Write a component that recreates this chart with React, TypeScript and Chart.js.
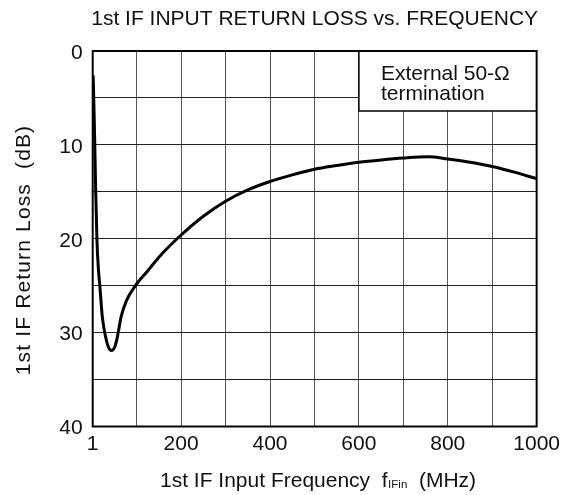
import React, { useEffect, useRef } from 'react';
import { Chart, registerables } from 'chart.js';

Chart.register(...registerables);

// ---- data ----
const frequencyMHz = [2, 4, 5.5, 7.7, 10.6, 13.5, 17, 22.6, 28.5, 36, 43, 50, 55, 58, 65, 77, 97, 125, 157, 200, 250, 300, 350, 400, 450, 500, 550, 600, 650, 700, 756, 800, 850, 900, 950, 1000];
const returnLossDb = [2.6, 6.3, 9.5, 14.8, 20.2, 23.0, 25.0, 28.3, 30.1, 31.5, 31.9, 31.6, 30.8, 30.1, 28.3, 26.6, 25.0, 23.4, 21.6, 19.6, 17.6, 16.0, 14.8, 13.9, 13.2, 12.6, 12.2, 11.85, 11.6, 11.4, 11.27, 11.5, 11.85, 12.3, 12.9, 13.6];

const xTickValues = [1, 100, 200, 300, 400, 500, 600, 700, 800, 900, 1000];
const xTickLabels = ['1', '', '200', '', '400', '', '600', '', '800', '', '1000'];
const yTickLabeled = [0, 10, 20, 30, 40];

const chartTitle = '1st IF INPUT RETURN LOSS vs. FREQUENCY';
const yTitle = '1st IF Return Loss  (dB)';
const xTitleMain = '1st IF Input Frequency  f';
const xTitleSub = 'IFin';
const xTitleTail = '  (MHz)';
const noteLines = ['External 50-\u03A9', 'termination'];
const noteBoxX = [600, 1000];
const noteBoxY = [0, 6.4];

const FONT = '"Liberation Sans", Arial, Helvetica, sans-serif';

const decorPlugin = {
  id: 'decor',
  beforeDatasetsDraw(chart: any) {
    const { ctx, scales } = chart;
    const x = scales.x;
    const y = scales.y;
    const x0 = x.getPixelForValue(noteBoxX[0]);
    const x1 = x.getPixelForValue(noteBoxX[1]);
    const y0 = y.getPixelForValue(noteBoxY[0]);
    const y1 = y.getPixelForValue(noteBoxY[1]);
    ctx.save();
    ctx.fillStyle = '#ffffff';
    ctx.fillRect(x0, y0, x1 - x0, y1 - y0);
    ctx.strokeStyle = '#000000';
    ctx.lineWidth = 1.5;
    ctx.beginPath();
    ctx.moveTo(x0, y0);
    ctx.lineTo(x0, y1);
    ctx.lineTo(x1, y1);
    ctx.stroke();
    ctx.fillStyle = '#111111';
    ctx.font = `21px ${FONT}`;
    ctx.textAlign = 'left';
    ctx.textBaseline = 'alphabetic';
    ctx.fillText(noteLines[0], x0 + 22, y0 + 28.5);
    ctx.fillText(noteLines[1], x0 + 22, y0 + 49);
    ctx.restore();
  },
  afterDraw(chart: any) {
    const { ctx, chartArea } = chart;
    const { left, right, top, bottom } = chartArea;
    ctx.save();
    ctx.strokeStyle = '#000000';
    ctx.lineWidth = 2;
    ctx.strokeRect(left, top, right - left, bottom - top);

    ctx.fillStyle = '#111111';
    // main title
    ctx.font = `21px ${FONT}`;
    ctx.textAlign = 'center';
    ctx.textBaseline = 'alphabetic';
    ctx.fillText(chartTitle, (left + right) / 2, 25);

    // x title with subscript
    ctx.textAlign = 'left';
    let cx = 160;
    const base = 486.7;
    ctx.font = `21px ${FONT}`;
    ctx.fillText(xTitleMain, cx, base);
    cx += ctx.measureText(xTitleMain).width;
    ctx.font = `11.5px ${FONT}`;
    ctx.fillText(xTitleSub, cx + 0.5, base + 1.5);
    cx += ctx.measureText(xTitleSub).width + 0.5;
    ctx.font = `21px ${FONT}`;
    ctx.fillText(xTitleTail, cx, base);

    // y title
    ctx.translate(24.5, 250);
    ctx.rotate(-Math.PI / 2);
    ctx.textAlign = 'center';
    ctx.textBaseline = 'middle';
    try {
      (ctx as any).letterSpacing = '1.15px';
    } catch (e) {
      /* ignore */
    }
    ctx.fillText(yTitle, 0, 0);
    ctx.restore();
  },
};

export default function App() {
  const canvasRef = useRef<HTMLCanvasElement | null>(null);

  useEffect(() => {
    if (!canvasRef.current) return;
    const chart = new Chart(canvasRef.current, {
      type: 'line',
      data: {
        datasets: [
          {
            data: frequencyMHz.map((f, i) => ({ x: f, y: returnLossDb[i] })),
            borderColor: '#000000',
            borderWidth: 3,
            pointRadius: 0,
            fill: false,
            cubicInterpolationMode: 'monotone',
          },
        ],
      },
      options: {
        responsive: false,
        animation: false,
        layout: { padding: { top: 51, right: 26, bottom: 0, left: 0 } },
        plugins: {
          legend: { display: false },
          tooltip: { enabled: false },
          title: { display: false },
        },
        scales: {
          x: {
            type: 'linear',
            min: 1,
            max: 1000,
            afterBuildTicks: (scale: any) => {
              scale.ticks = xTickValues.map((v) => ({ value: v }));
            },
            afterFit: (scale: any) => {
              scale.height = 68.5;
            },
            grid: { color: '#555555', lineWidth: 1, drawTicks: false },
            border: { display: false },
            ticks: {
              autoSkip: false,
              maxRotation: 0,
              padding: 5,
              color: '#111111',
              font: { family: FONT, size: 21 },
              callback: (_v: any, i: number) => xTickLabels[i],
            },
          },
          y: {
            type: 'linear',
            min: 0,
            max: 40,
            reverse: true,
            afterFit: (scale: any) => {
              scale.width = 92.7;
            },
            grid: { color: '#222222', lineWidth: 1, drawTicks: false },
            border: { display: false },
            ticks: {
              stepSize: 5,
              padding: 10,
              labelOffset: 2,
              color: '#111111',
              font: { family: FONT, size: 21 },
              callback: (v: any) => (yTickLabeled.includes(Number(v)) ? String(v) : ''),
            },
          },
        },
      },
      plugins: [decorPlugin],
    } as any);
    return () => chart.destroy();
  }, []);

  return (
    <div style={{ position: 'fixed', left: 0, top: 0, width: 565, height: 495, background: '#ffffff' }}>
      <canvas ref={canvasRef} width={565} height={495} style={{ width: 565, height: 495 }} />
    </div>
  );
}
